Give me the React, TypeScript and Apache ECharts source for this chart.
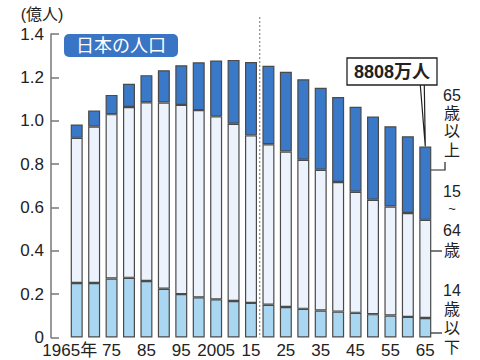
import React, { useEffect, useRef } from "react";
import * as echarts from "echarts";

const categories = ["1965年", "70", "75", "80", "85", "90", "95", "2000", "2005", "10", "15", "20", "25", "30", "35", "40", "45", "50", "55", "60", "65"];
// 億人
const age0to14 = [0.2517, 0.2515, 0.2722, 0.2751, 0.2603, 0.2249, 0.2003, 0.1851, 0.1759, 0.1684, 0.1595, 0.1508, 0.1407, 0.1321, 0.1246, 0.1194, 0.1138, 0.1077, 0.1012, 0.0951, 0.0898];
const age15to64 = [0.6693, 0.7212, 0.7581, 0.7884, 0.8251, 0.8590, 0.8726, 0.8638, 0.8442, 0.8173, 0.7728, 0.7406, 0.7170, 0.6875, 0.6494, 0.5978, 0.5584, 0.5275, 0.5028, 0.4793, 0.4529];
const age65plus = [0.0618, 0.0739, 0.0887, 0.1065, 0.1247, 0.1490, 0.1828, 0.2204, 0.2576, 0.2948, 0.3387, 0.3619, 0.3677, 0.3716, 0.3782, 0.3921, 0.3919, 0.3841, 0.3704, 0.3540, 0.3381];
const yTicks = [0, 0.2, 0.4, 0.6, 0.8, 1.0, 1.2, 1.4];
const calloutText = "8808万人";
const titleText = "日本の人口";
const unitText = "(億人)";

const FONT = "'Liberation Sans', Arial, 'Noto Sans CJK JP', sans-serif";
const BORDER = "#4a4a4a";

export default function App() {
  const ref = useRef<HTMLDivElement>(null);
  useEffect(() => {
    const chart = echarts.init(ref.current!, null, { renderer: "svg" });
    const barStyle = (color: string) => ({ color, borderColor: BORDER, borderWidth: 1.2 });
    const xData = categories.map((c, i) =>
      i === 0 ? { value: c, textStyle: { padding: [0, 14, 0, 0] } } : c
    );
    chart.setOption({
      animation: false,
      textStyle: { fontFamily: FONT },
      grid: { left: 68, right: 46, top: 34, bottom: 22.5 },
      xAxis: {
        type: "category",
        data: xData,
        axisLine: { show: false },
        axisTick: { show: false },
        axisLabel: { interval: 1, showMinLabel: true, hideOverlap: false, color: "#222", fontSize: 17, margin: 4, fontFamily: FONT },
      },
      yAxis: {
        type: "value",
        min: yTicks[0],
        max: yTicks[yTicks.length - 1],
        interval: 0.2,
        offset: 17,
        axisLine: { show: true, lineStyle: { color: "#777", width: 1.5 } },
        axisTick: { show: true, inside: true, length: 8, lineStyle: { color: "#777", width: 1.5 } },
        splitLine: { show: false },
        axisLabel: {
          color: "#222",
          fontSize: 17,
          margin: 7,
          showMinLabel: true,
          fontFamily: FONT,
          formatter: (v: number) => (v === 0 ? "0" : v.toFixed(1)),
        },
      },
      series: [
        { name: "14歳以下", type: "bar", stack: "p", barWidth: 12, data: age0to14, itemStyle: barStyle("#a9d6f1") },
        { name: "15~64歳", type: "bar", stack: "p", barWidth: 12, data: age15to64, itemStyle: barStyle("#ecf3fc") },
        { name: "65歳以上", type: "bar", stack: "p", barWidth: 12, data: age65plus, itemStyle: barStyle("#3a78c8") },
      ],
    });

    const last = categories.length - 1;
    const total = age0to14[last] + age15to64[last] + age65plus[last];
    const [bx, by] = chart.convertToPixel({ gridIndex: 0 }, [last, total]) as number[];
    const x15 = (chart.convertToPixel({ xAxisIndex: 0 }, 10) as number);
    const x20 = (chart.convertToPixel({ xAxisIndex: 0 }, 11) as number);
    const divX = (x15 + x20) / 2;
    const y0 = chart.convertToPixel({ yAxisIndex: 0 }, 0) as number;

    const txt = (text: string, x: number, y: number, extra: any = {}) => ({
      type: "text",
      x,
      y,
      style: { text, fill: "#222", fontSize: 17, lineHeight: 17, fontFamily: FONT, align: "center", verticalAlign: "middle", ...extra },
    });
    const side = (text: string, y: number, extra: any = {}) => txt(text, 452, y, { fontSize: 16, lineHeight: 16, ...extra });
    const ln = (pts: number[][]) => ({
      type: "polyline",
      shape: { points: pts },
      style: { stroke: "#222", lineWidth: 1.2, fill: null },
    });

    chart.setOption({
      graphic: [
        txt(unitText, 42, 14, { fontSize: 16 }),
        { type: "rect", shape: { x: 64, y: 34, width: 114, height: 23, r: 5 }, style: { fill: "#3a74c4" } },
        txt(titleText, 121, 46, { fill: "#fff", fontSize: 18, lineHeight: 18 }),
        { type: "line", shape: { x1: divX, y1: 17, x2: divX, y2: y0 }, style: { stroke: "#888", lineWidth: 1.2, lineDash: [2, 2] } },
        ln([[bx - 5, 85], [bx, by], [bx - 1, 85]]),
        { type: "rect", shape: { x: 347, y: 58, width: 90, height: 27 }, style: { fill: "#fff", stroke: "#222", lineWidth: 1.3 } },
        txt(calloutText, 392, 72, { fontWeight: "bold", fontSize: 18, lineHeight: 18 }),
        side("65", 95),
        side("歳", 113),
        side("以", 131),
        side("上", 150),
        ln([[bx, 170], [445, 170], [445, 162]]),
        side("15", 191),
        side("~", 208, { rotation: Math.PI / 2, fontSize: 13, lineHeight: 8 }),
        side("64", 230),
        side("歳", 250),
        ln([[bx, 251], [442, 251]]),
        side("14", 290),
        side("歳", 309),
        side("以", 328),
        side("下", 347),
        ln([[bx, 333], [442, 333]]),
      ],
    });
    return () => chart.dispose();
  }, []);
  return <div ref={ref} style={{ position: "absolute", left: 0, top: 0, width: 480, height: 360 }} />;
}
